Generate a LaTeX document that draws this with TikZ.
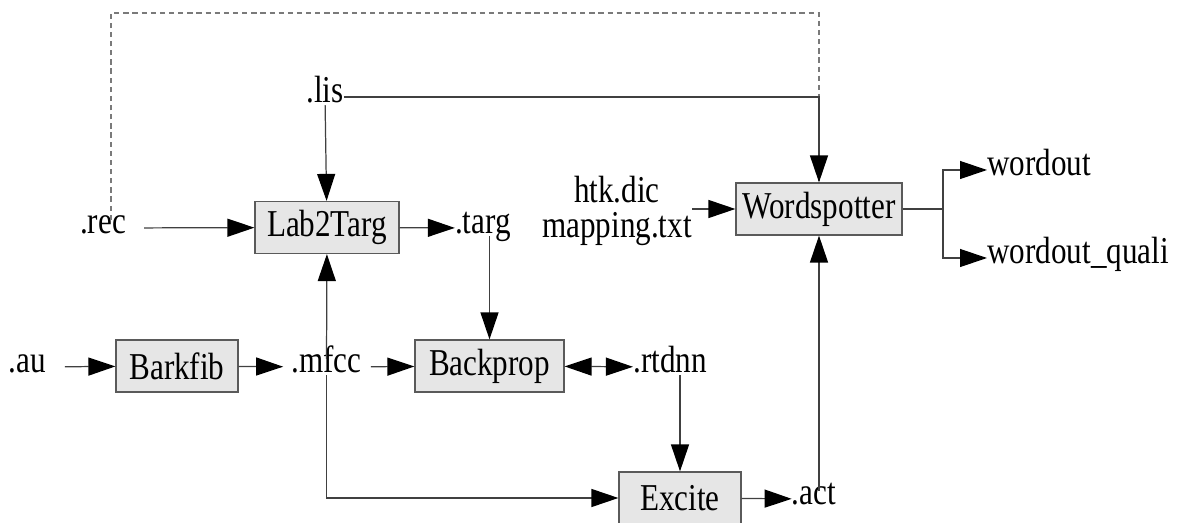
\documentclass[tikz,border=0pt]{standalone}
\usepackage{fontspec}
\setmainfont{Liberation Serif}[FakeStretch=0.82]
\usepackage{tikz}
\usetikzlibrary{positioning, arrows.meta, calc}
\usepackage{xcolor}
\definecolor{boxfill}{HTML}{E6E6E6}
\definecolor{boxline}{HTML}{5A5A5A}
\definecolor{wire}{HTML}{404040}
\definecolor{dashwire}{HTML}{7A7A7A}

\begin{document}
\begin{tikzpicture}[x=0.02cm, y=-0.02cm,
    font=\fontsize{21.6}{19.9}\selectfont,
    proc/.style={draw=boxline, fill=boxfill, line width=0.7pt, minimum height=1.04cm, inner sep=0pt},
    file/.style={inner sep=0pt, text height=0.76em, text depth=0.12em},
    wire/.style={draw=wire, line width=0.7pt},
    arr/.style={wire, -{Triangle[length=5.4mm, width=3.6mm, color=black]}},
    arrs/.style={wire, {Triangle[length=5.4mm, width=3.6mm, color=black]}-{Triangle[length=5.4mm, width=3.6mm, color=black]}},
    fb/.style={draw=dashwire, line width=0.7pt, dash pattern=on 3pt off 2.2pt}]
    \useasboundingbox (0,0) rectangle (1177,523);
    \node[proc, minimum width=2.88cm] (lab) at (327,227.5) {Lab2Targ};
    \node[proc, minimum width=3.32cm] (wsp) at (819,209) {Wordspotter};
    \node[proc, minimum width=2.44cm] (bark) at (177,366) {Barkfib};
    \node[proc, minimum width=2.98cm] (bprop) at (489.5,366) {Backprop};
    \node[proc, minimum width=2.44cm] (exc) at (680,498) {Excite};
    \node[file] (rec) at (103,228) {.rec};
    \node[file] (lis) at (325,97) {.lis};
    \node[file] (targ) at (483,228) {.targ};
    \node[file] (au) at (27,367) {.au};
    \node[file] (mfcc) at (326.5,367) {.mfcc};
    \node[file] (rtdnn) at (670,367) {.rtdnn};
    \node[file] (act) at (814,499) {.act};
    \node[inner sep=0pt, align=center] (dic) at (617,211) {htk.dic\\mapping.txt};
    \node[file, anchor=west] (wo) at (987,170) {wordout};
    \node[file, anchor=west] (woq) at (987,258) {wordout\_quali};
    \coordinate (top) at (819,13);
    \coordinate (split) at (943,209);

    \draw[fb] ([xshift=0.16cm]rec.north) |- (top) -- (wsp.north);
    \draw[arr] (lis.east) -| (wsp.north);
    \draw[arr] (lis) -- (lab);
    \draw[arr, shorten <=0.36cm] (rec) -- (lab);
    \draw[arr] (lab) -- (targ);
    \draw[arr] (targ.south -| bprop.north) -- (bprop);
    \draw[arr, shorten <=0.38cm] (au) -- (bark);
    \draw[arr, shorten >=0.16cm] (bark) -- (mfcc);
    \draw[arr, shorten <=0.18cm] (mfcc) -- (bprop);
    \draw[arr] (mfcc) -- (lab);
    \draw[arr] (mfcc.south) |- (exc.west);
    \draw[arrs] (bprop) -- (rtdnn);
    \draw[arr] (rtdnn.south -| exc.north) -- (exc);
    \draw[arr] (exc) -- (act);
    \draw[arr] (act.north -| wsp.south) -- (wsp);
    \draw[arr] (dic.east |- wsp.west) -- (wsp);
    \draw[wire] (wsp) -- (split);
    \draw[arr] (split) |- (wo);
    \draw[arr] (split) |- (woq);
  \end{tikzpicture}
\end{document}
